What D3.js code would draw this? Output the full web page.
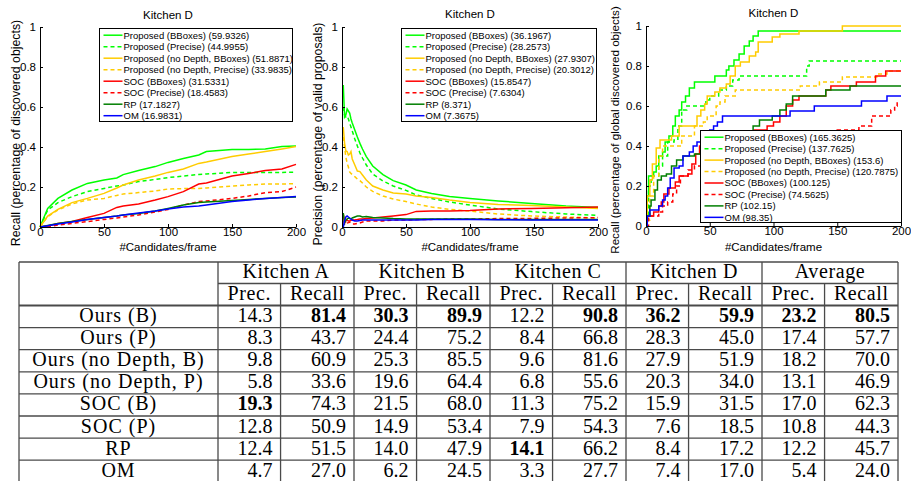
<!DOCTYPE html>
<html>
<head>
<meta charset="utf-8">
<script src="https://cdn.jsdelivr.net/npm/d3@7"></script>
<style>
  body { margin: 0; background: #fff; }
  svg { display: block; }
  .plot text { font-family: "Liberation Sans", Arial, sans-serif; fill: #000; }
  .tbl text { font-family: "Liberation Serif", "Times New Roman", serif; fill: #000; }
</style>
</head>
<body>
<div id="fig"></div>
<script>
var width = 911;
var height = 481;

// ---------- legend names / scores ----------
var seriesNames = ["Proposed (BBoxes)", "Proposed (Precise)", "Proposed (no Depth, BBoxes)",
  "Proposed (no Depth, Precise)", "SOC (BBoxes)", "SOC (Precise)", "RP", "OM"];
var recallScores = [59.9326, 44.9955, 51.8871, 33.9835, 31.5331, 18.4583, 17.1827, 16.9831];
var precScores = [36.1967, 28.2573, 27.9307, 20.3012, 15.8547, 7.6304, 8.371, 7.3675];
var globalScores = [165.3625, 137.7625, 153.6, 120.7875, 100.125, 74.5625, 102.15, 98.35];

// ---------- plot 1: recall vs candidates ----------
var recallX = [0, 6, 14, 25, 37, 50, 60, 65, 77, 90, 100, 112, 124, 130, 150, 163, 176, 189, 200];
var recallPropB = [0, .093, .143, .185, .218, .235, .245, .262, .282, .302, .323, .343, .36, .377, .388, .388, .39, .402, .405];
var recallPropP = [0, .085, .122, .152, .177, .193, .205, .21, .227, .238, .247, .255, .263, .265, .273, .273, .273, .273, .274];
var recallNoDB = [0, .055, .088, .122, .143, .168, .195, .21, .235, .255, .273, .29, .318, .325, .352, .365, .377, .39, .402];
var recallNoDP = [0, .052, .085, .115, .135, .143, .158, .165, .172, .18, .19, .192, .193, .195, .205, .21, .215, .215, .217];
var recallSocB = [0, .005, .018, .027, .047, .068, .098, .105, .115, .135, .152, .177, .215, .22, .255, .268, .282, .29, .313];
var recallSocP = [0, 0, .01, .018, .027, .038, .045, .05, .06, .075, .088, .11, .127, .13, .143, .155, .172, .177, .2];
var recallRP = [0, .008, .018, .027, .038, .048, .055, .06, .068, .08, .093, .11, .122, .125, .133, .138, .143, .147, .15];
var recallOM = [0, .006, .015, .025, .037, .048, .055, .06, .07, .08, .09, .1, .105, .11, .127, .135, .143, .148, .153];

// ---------- plot 2: precision vs candidates ----------
var precX = [1, 2, 3, 4, 5, 6, 7, 8, 10, 12, 14, 16, 19, 24, 32, 40, 50, 58, 70, 84, 100, 122, 148, 175, 200];
var precPropB = [.71, .55, .56, .59, .58, .57, .54, .52, .485, .45, .418, .39, .352, .305, .262, .232, .21, .185, .168, .152, .143, .13, .118, .105, .098];
var precPropP = [.6, .56, .55, .555, .54, .52, .5, .48, .44, .405, .37, .345, .31, .265, .23, .205, .183, .16, .143, .125, .11, .09, .077, .065, .058];
var precNoDB = [.5, .42, .38, .377, .36, .365, .377, .34, .31, .28, .277, .26, .235, .205, .185, .17, .165, .155, .148, .135, .123, .113, .107, .1, .092];
var precNoDP = [.45, .4, .35, .32, .3, .275, .268, .262, .252, .24, .232, .22, .2, .178, .155, .14, .127, .115, .1, .088, .08, .065, .055, .05, .045];
var precSocB = [.06, .02, .03, .035, .03, .03, .033, .035, .035, .037, .04, .04, .042, .045, .05, .055, .062, .078, .08, .08, .082, .09, .093, .096, .1];
var precSocP = [.065, .01, .015, .02, .022, .025, .02, .015, .015, .018, .02, .025, .03, .03, .03, .035, .035, .037, .038, .04, .04, .042, .043, .045, .047];
var precRP = [.07, .02, .035, .04, .045, .042, .04, .045, .05, .055, .055, .05, .052, .048, .045, .042, .04, .04, .04, .04, .04, .038, .038, .037, .037];
var precOM = [0, .03, .05, .055, .05, .045, .04, .035, .03, .03, .032, .035, .035, .035, .035, .035, .035, .035, .037, .037, .038, .036, .035, .035, .035];

// ---------- plot 3: global recall (steps, [x, y]) ----------
var globalPropB = [[0,.05],[1,.15],[2,.25],[6,.27],[8,.3],[10,.35],[13,.37],[15,.42],[18,.45],[21,.5],[23,.55],[26,.58],[28,.62],[31,.65],[34,.69],[38,.72],[54,.75],[63,.78],[65,.8],[69,.83],[73,.86],[77,.9],[81,.925],[84,.95],[88,.975],[200,.975]];
var globalPropP = [[0,.03],[2,.2],[4,.25],[10,.3],[13,.35],[17,.42],[22,.43],[25,.5],[28,.58],[32,.6],[45,.6],[47,.63],[50,.65],[57,.68],[63,.7],[68,.73],[73,.75],[126,.8],[128,.825],[200,.825]];
var globalNoDB = [[0,.05],[1,.15],[3,.23],[5,.31],[8,.39],[11,.43],[20,.45],[26,.5],[40,.55],[43,.58],[46,.61],[48,.65],[54,.67],[58,.69],[63,.71],[66,.75],[70,.8],[74,.82],[81,.85],[86,.87],[88,.92],[99,.945],[105,.96],[120,.975],[154,1],[200,1]];
var globalNoDP = [[0,.03],[3,.15],[6,.25],[10,.35],[13,.4],[26,.4],[28,.45],[38,.5],[45,.52],[48,.55],[55,.6],[58,.62],[62,.65],[70,.68],[121,.7],[136,.72],[154,.745],[181,.76],[189,.775],[200,.775]];
var globalSocB = [[0,0],[1,.05],[6,.07],[10,.1],[12,.12],[14,.16],[18,.19],[23,.22],[26,.25],[33,.26],[36,.31],[39,.36],[42,.4],[50,.43],[60,.45],[70,.47],[85,.48],[95,.5],[100,.52],[105,.55],[110,.6],[115,.63],[120,.65],[141,.68],[145,.7],[165,.72],[180,.75],[188,.775],[200,.775]];
var globalSocP = [[0,0],[2,.05],[10,.07],[13,.1],[17,.12],[21,.16],[24,.2],[27,.25],[33,.28],[38,.3],[50,.33],[70,.37],[90,.4],[110,.43],[130,.45],[150,.48],[167,.5],[177,.55],[190,.55],[192,.58],[195,.6],[197,.62]];
var globalRP = [[0,0],[1,.05],[3,.1],[4,.13],[7,.18],[9,.23],[12,.25],[16,.26],[20,.3],[24,.33],[29,.35],[38,.36],[45,.38],[60,.4],[70,.43],[80,.47],[84,.5],[89,.53],[99,.55],[105,.58],[110,.61],[115,.65],[141,.68],[160,.7],[200,.7]];
var globalOM = [[0,0],[1,.05],[3,.08],[10,.1],[13,.13],[15,.15],[17,.19],[19,.24],[22,.29],[26,.3],[29,.35],[34,.37],[37,.4],[40,.42],[45,.45],[50,.48],[53,.5],[56,.52],[60,.55],[113,.575],[132,.6],[169,.625],[189,.65],[200,.65]];

// ---------- table ----------
var kitchens = ["Kitchen A", "Kitchen B", "Kitchen C", "Kitchen D", "Average"];
var methods = ["Ours (B)", "Ours (P)", "Ours (no Depth, B)", "Ours (no Depth, P)", "SOC (B)", "SOC (P)", "RP", "OM"];
var precA = [14.3, 8.3, 9.8, 5.8, 19.3, 12.8, 12.4, 4.7];
var recA  = [81.4, 43.7, 60.9, 33.6, 74.3, 50.9, 51.5, 27.0];
var precB = [30.3, 24.4, 25.3, 19.6, 21.5, 14.9, 14.0, 6.2];
var recB  = [89.9, 75.2, 85.5, 64.4, 68.0, 53.4, 47.9, 24.5];
var precC = [12.2, 8.4, 9.6, 6.8, 11.3, 7.9, 14.1, 3.3];
var recC  = [90.8, 66.8, 81.6, 55.6, 75.2, 54.3, 66.2, 27.7];
var precD = [36.2, 28.3, 27.9, 20.3, 15.9, 7.6, 8.4, 7.4];
var recD  = [59.9, 45.0, 51.9, 34.0, 31.5, 18.5, 17.2, 17.0];
var precAvg = [23.2, 17.4, 18.2, 13.1, 17.0, 10.8, 12.2, 5.4];
var recAvg  = [80.5, 57.7, 70.0, 46.9, 62.3, 44.3, 45.7, 24.0];

// line styles (matlab-ish)
var lineColors = ["#00ff00", "#00ff00", "#ffcc00", "#ffcc00", "#ff0000", "#ff0000", "#007f00", "#0000ff"];
var lineDashed = [false, true, false, true, false, true, false, false];

var svg = d3.select("#fig").append("svg")
  .attr("width", width)
  .attr("height", height);
svg.append("rect").attr("width", width).attr("height", height).attr("fill", "#fff");

function zipXY(xs, ys) {
  return ys.map(function(y, i) { return [xs[i], y]; });
}

function drawPlot(cfg) {
  var g = svg.append("g").attr("class", "plot");
  var x = d3.scaleLinear().domain([0, 200]).range([cfg.left, cfg.right]);
  var y = d3.scaleLinear().domain([0, 1]).range([cfg.bottom, cfg.top]);

  var line = d3.line()
    .x(function(d) { return x(d[0]); })
    .y(function(d) { return y(d[1]); })
    .curve(cfg.curve || d3.curveLinear);

  cfg.series.forEach(function(s, i) {
    g.append("path")
      .attr("d", line(s))
      .attr("fill", "none")
      .attr("stroke", lineColors[i])
      .attr("stroke-width", 1.5)
      .attr("stroke-dasharray", lineDashed[i] ? "4,3" : null);
  });

  // axes, matlab style: ticks inward, no box
  var xAxis = d3.axisBottom(x).tickValues([0, 50, 100, 150, 200])
    .tickSizeInner(-3).tickSizeOuter(0).tickPadding(4);
  var yAxis = d3.axisLeft(y).tickValues([0, 0.2, 0.4, 0.6, 0.8, 1])
    .tickFormat(d3.format("~g")).tickSizeInner(-3).tickSizeOuter(0).tickPadding(4);

  var gx = g.append("g").attr("transform", "translate(0," + cfg.bottom + ")").call(xAxis);
  var gy = g.append("g").attr("transform", "translate(" + cfg.left + ",0)").call(yAxis);
  [gx, gy].forEach(function(a) {
    a.selectAll("path, line").attr("stroke", "#000");
    a.selectAll("text").attr("font-size", "11.5px").attr("font-family", null);
  });
  gx.selectAll("text").attr("dy", null).attr("y", cfg.xTickY);

  g.append("text")
    .attr("x", (cfg.left + cfg.right) / 2)
    .attr("y", cfg.titleY)
    .attr("text-anchor", "middle")
    .attr("font-size", "11.5px")
    .text("Kitchen D");

  g.append("text")
    .attr("x", (cfg.left + cfg.right) / 2)
    .attr("y", 251)
    .attr("text-anchor", "middle")
    .attr("font-size", "11.5px")
    .text("#Candidates/frame");

  g.append("text")
    .attr("transform", "translate(" + cfg.yLabelX + "," + cfg.yLabelY + ") rotate(-90)")
    .attr("text-anchor", "middle")
    .attr("font-size", cfg.yLabelSize)
    .text(cfg.yLabel);

  // legend
  var lb = cfg.legend;
  var lg = g.append("g").attr("transform", "translate(" + lb.x + "," + lb.y + ")");
  lg.append("rect")
    .attr("width", lb.w).attr("height", lb.h)
    .attr("fill", "#fff").attr("stroke", "#000").attr("stroke-width", 1);
  seriesNames.forEach(function(name, i) {
    var cy = 6.7 + i * lb.step;
    lg.append("line")
      .attr("x1", 4).attr("x2", 23).attr("y1", cy).attr("y2", cy)
      .attr("stroke", lineColors[i]).attr("stroke-width", 1.5)
      .attr("stroke-dasharray", lineDashed[i] ? "4,3" : null);
    lg.append("text")
      .attr("x", 24).attr("y", cy + 3.4)
      .attr("font-size", "9.5px")
      .text(name + " (" + cfg.scores[i] + ")");
  });
}

drawPlot({
  left: 40, right: 296, top: 27, bottom: 227, titleY: 19, xTickY: 9,
  yLabelX: 19.5, yLabelY: 133, yLabelSize: "12.3px",
  yLabel: "Recall (percentage of discovered objects)",
  scores: recallScores,
  legend: { x: 99.5, y: 28.5, w: 193, h: 93, step: 11.5 },
  series: [recallPropB, recallPropP, recallNoDB, recallNoDP, recallSocB, recallSocP, recallRP, recallOM]
    .map(function(ys) { return zipXY(recallX, ys); })
});

drawPlot({
  left: 342, right: 598, top: 27, bottom: 227, titleY: 18, xTickY: 9,
  yLabelX: 321.5, yLabelY: 134, yLabelSize: "12.3px",
  yLabel: "Precision (percentage of valid proposals)",
  scores: precScores,
  legend: { x: 401.5, y: 28.5, w: 195, h: 93, step: 11.5 },
  series: [precPropB, precPropP, precNoDB, precNoDP, precSocB, precSocP, precRP, precOM]
    .map(function(ys) { return zipXY(precX, ys); })
});

drawPlot({
  left: 646, right: 901, top: 26, bottom: 226, titleY: 17, xTickY: 9,
  yLabelX: 619, yLabelY: 130, yLabelSize: "11.6px",
  yLabel: "Recall (percentage of global discovered objects)",
  scores: globalScores, curve: d3.curveStepAfter,
  legend: { x: 700.5, y: 130.5, w: 201, h: 92, step: 11.45 },
  series: [globalPropB, globalPropP, globalNoDB, globalNoDP, globalSocB, globalSocP, globalRP, globalOM]
});

// ---------- table ----------
var tbl = svg.append("g").attr("class", "tbl");
var tLeft = 19, tLabelRight = 218, tRight = 898;
var tTop = 262, tMid = 283.5, tHead = 305.5;
var rowH = 22.1;

var groupX = d3.scaleBand().domain(kitchens).range([tLabelRight, tRight]);
var rowY = d3.scaleBand().domain(methods).range([tHead, tHead + rowH * methods.length]);
var precFrac = 0.46;

var cols = [
  { k: "Kitchen A", prec: precA, rec: recA },
  { k: "Kitchen B", prec: precB, rec: recB },
  { k: "Kitchen C", prec: precC, rec: recC },
  { k: "Kitchen D", prec: precD, rec: recD },
  { k: "Average", prec: precAvg, rec: recAvg }
];

var lineCol = "#4a4a4a";
var tBottom = height + 5;
function hline(x1, x2, yy, w) {
  tbl.append("line").attr("x1", x1).attr("x2", x2).attr("y1", yy).attr("y2", yy)
    .attr("stroke", lineCol).attr("stroke-width", w || 1.3);
}
function vline(xx, y1, y2) {
  tbl.append("line").attr("x1", xx).attr("x2", xx).attr("y1", y1).attr("y2", y2)
    .attr("stroke", lineCol).attr("stroke-width", 1.3);
}

hline(tLeft, tRight, tTop);
hline(tLabelRight, tRight, tMid);
hline(tLeft, tRight, tHead, 2.2);
methods.forEach(function(m) { hline(tLeft, tRight, rowY(m) + rowH); });
vline(tLeft, tTop, tBottom);
vline(tLabelRight, tTop, tBottom);
vline(tRight, tTop, tBottom);

cols.forEach(function(c) {
  var gx0 = groupX(c.k), bw = groupX.bandwidth();
  var split = gx0 + bw * precFrac;
  if (gx0 > tLabelRight) vline(gx0, tTop, tBottom);
  vline(split, tMid, tBottom);

  tbl.append("text").attr("x", gx0 + bw / 2).attr("y", tTop + 16)
    .attr("text-anchor", "middle").attr("font-size", "20px").attr("letter-spacing", "0.6px")
    .text(c.k);
  tbl.append("text").attr("x", (gx0 + split) / 2).attr("y", tMid + 16.5)
    .attr("text-anchor", "middle").attr("font-size", "20px").attr("letter-spacing", "0.6px")
    .text("Prec.");
  tbl.append("text").attr("x", (split + gx0 + bw) / 2).attr("y", tMid + 16.5)
    .attr("text-anchor", "middle").attr("font-size", "20px").attr("letter-spacing", "0.6px")
    .text("Recall");

  var bestP = d3.max(c.prec), bestR = d3.max(c.rec);
  methods.forEach(function(m, i) {
    var by = rowY(m) + 16.5;
    tbl.append("text").attr("x", split - 8).attr("y", by)
      .attr("text-anchor", "end").attr("font-size", "20px")
      .attr("font-weight", c.prec[i] === bestP ? "bold" : null)
      .text(c.prec[i].toFixed(1));
    tbl.append("text").attr("x", gx0 + bw - 8).attr("y", by)
      .attr("text-anchor", "end").attr("font-size", "20px")
      .attr("font-weight", c.rec[i] === bestR ? "bold" : null)
      .text(c.rec[i].toFixed(1));
  });
});

methods.forEach(function(m) {
  tbl.append("text").attr("x", (tLeft + tLabelRight) / 2).attr("y", rowY(m) + 16.5)
    .attr("text-anchor", "middle").attr("font-size", "20px").attr("letter-spacing", "1px")
    .text(m);
});
</script>
</body>
</html>
